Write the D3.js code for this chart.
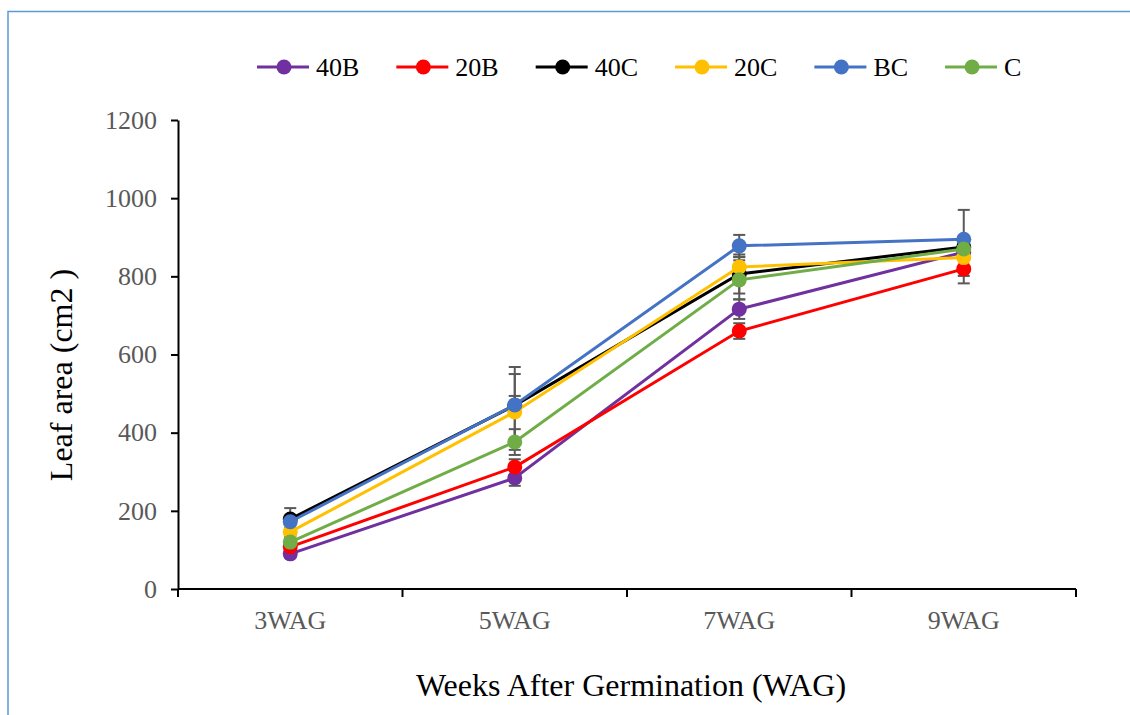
<!DOCTYPE html>
<html>
<head>
<meta charset="utf-8">
<script src="https://cdn.jsdelivr.net/npm/d3@7"></script>
<style>
  html, body { margin: 0; padding: 0; background: #fff; }
  svg { display: block; }
</style>
</head>
<body>
<svg id="chart" width="1130" height="715"></svg>
<script>
// Leaf area by weeks after germination, six treatments
const categories = ["3WAG", "5WAG", "7WAG", "9WAG"];
const seriesNames = ["40B", "20B", "40C", "20C", "BC", "C"];
const seriesColors = ["#7030a0", "#ff0000", "#000000", "#ffc000", "#4472c4", "#70ad47"];

const values40B = [90, 284, 716, 862];
const values20B = [108, 312, 660, 819];
const values40C = [179, 470, 806, 875];
const values20C = [146, 453, 824, 848];
const valuesBC  = [172, 471, 878, 895];
const valuesC   = [120, 376, 791, 870];

const err40B = [10, 20, 25, 20];
const err20B = [10, 20, 20, 37];
const err40C = [28, 24, 50, 20];
const err20C = [10, 97, 25, 47];
const errBC  = [15, 97, 28, 75];
const errC   = [12, 33, 50, 20];

const yTicks = [0, 200, 400, 600, 800, 1000, 1200];

const seriesValues = [values40B, values20B, values40C, values20C, valuesBC, valuesC];
const seriesErrors = [err40B, err20B, err40C, err20C, errBC, errC];

const svg = d3.select("#chart");
const fontSerif = "'Liberation Serif', 'Times New Roman', serif";

// frame
svg.append("path")
  .attr("d", "M8,715 V11.5 H1130")
  .attr("fill", "none")
  .attr("stroke", "#5b9bd5")
  .attr("stroke-width", 1.5);

const plotLeft = 178, plotRight = 1076, plotTop = 120, plotBottom = 589;

const x = d3.scaleBand().domain(categories).range([plotLeft, plotRight]).padding(0);
const y = d3.scaleLinear().domain([0, 1200]).range([plotBottom, plotTop]);
const cx = c => x(c) + x.bandwidth() / 2;

// y axis
const yAxis = svg.append("g")
  .attr("transform", `translate(${plotLeft},0)`)
  .call(d3.axisLeft(y).tickValues(yTicks).tickFormat(d3.format("d"))
    .tickSize(7).tickPadding(14).tickSizeOuter(0));
yAxis.select(".domain").attr("stroke", "#000").attr("stroke-width", 2);
yAxis.selectAll(".tick line").attr("stroke", "#000").attr("stroke-width", 2);
yAxis.selectAll(".tick text")
  .attr("fill", "#595959")
  .style("font-family", fontSerif)
  .style("font-size", "26px");

// x axis with ticks between categories
const xAxisG = svg.append("g").attr("transform", `translate(0,${plotBottom})`);
xAxisG.append("line")
  .attr("x1", plotLeft).attr("x2", plotRight)
  .attr("stroke", "#000").attr("stroke-width", 2);
const boundaries = categories.map(c => x(c)).concat([plotRight]);
xAxisG.selectAll("line.tk")
  .data(boundaries)
  .join("line")
  .attr("class", "tk")
  .attr("x1", d => d).attr("x2", d => d)
  .attr("y1", 0).attr("y2", 8)
  .attr("stroke", "#000").attr("stroke-width", 2);
xAxisG.selectAll("text")
  .data(categories)
  .join("text")
  .attr("x", d => cx(d))
  .attr("y", 40)
  .attr("text-anchor", "middle")
  .attr("fill", "#595959")
  .style("font-family", fontSerif)
  .style("font-size", "26px")
  .text(d => d);

// axis titles
svg.append("text")
  .attr("transform", "translate(72,375) rotate(-90)")
  .attr("text-anchor", "middle")
  .style("font-family", fontSerif)
  .style("font-size", "32px")
  .attr("fill", "#000")
  .text("Leaf area (cm2 )");

svg.append("text")
  .attr("x", 631)
  .attr("y", 696)
  .attr("text-anchor", "middle")
  .style("font-family", fontSerif)
  .style("font-size", "32px")
  .attr("fill", "#000")
  .text("Weeks After Germination (WAG)");

// error bars
const errG = svg.append("g");
seriesValues.forEach((vals, si) => {
  vals.forEach((v, i) => {
    const e = seriesErrors[si][i];
    const px = cx(categories[i]);
    const g = errG.append("g").attr("stroke", "#595959").attr("stroke-width", 2);
    g.append("line").attr("x1", px).attr("x2", px).attr("y1", y(v - e)).attr("y2", y(v + e));
    g.append("line").attr("x1", px - 6).attr("x2", px + 6).attr("y1", y(v + e)).attr("y2", y(v + e));
    g.append("line").attr("x1", px - 6).attr("x2", px + 6).attr("y1", y(v - e)).attr("y2", y(v - e));
  });
});

// lines and markers
const line = d3.line().x((d, i) => cx(categories[i])).y(d => y(d));
seriesValues.forEach((vals, si) => {
  const g = svg.append("g");
  g.append("path")
    .datum(vals)
    .attr("d", line)
    .attr("fill", "none")
    .attr("stroke", seriesColors[si])
    .attr("stroke-width", 3);
  g.selectAll("circle")
    .data(vals)
    .join("circle")
    .attr("cx", (d, i) => cx(categories[i]))
    .attr("cy", d => y(d))
    .attr("r", 7.5)
    .attr("fill", seriesColors[si]);
});

// legend: items laid out one after another
const legend = svg.append("g").attr("transform", "translate(0,67)");
let cursor = 257;
seriesNames.forEach((name, i) => {
  const g = legend.append("g").attr("transform", `translate(${cursor},0)`);
  g.append("line").attr("x1", 0).attr("x2", 52).attr("stroke", seriesColors[i]).attr("stroke-width", 3);
  g.append("circle").attr("cx", 27).attr("r", 7.5).attr("fill", seriesColors[i]);
  const t = g.append("text")
    .attr("x", 59)
    .attr("y", 9)
    .style("font-family", fontSerif)
    .style("font-size", "26px")
    .attr("fill", "#000")
    .text(name);
  cursor += 59 + t.node().getComputedTextLength() + 37;
});
</script>
</body>
</html>
